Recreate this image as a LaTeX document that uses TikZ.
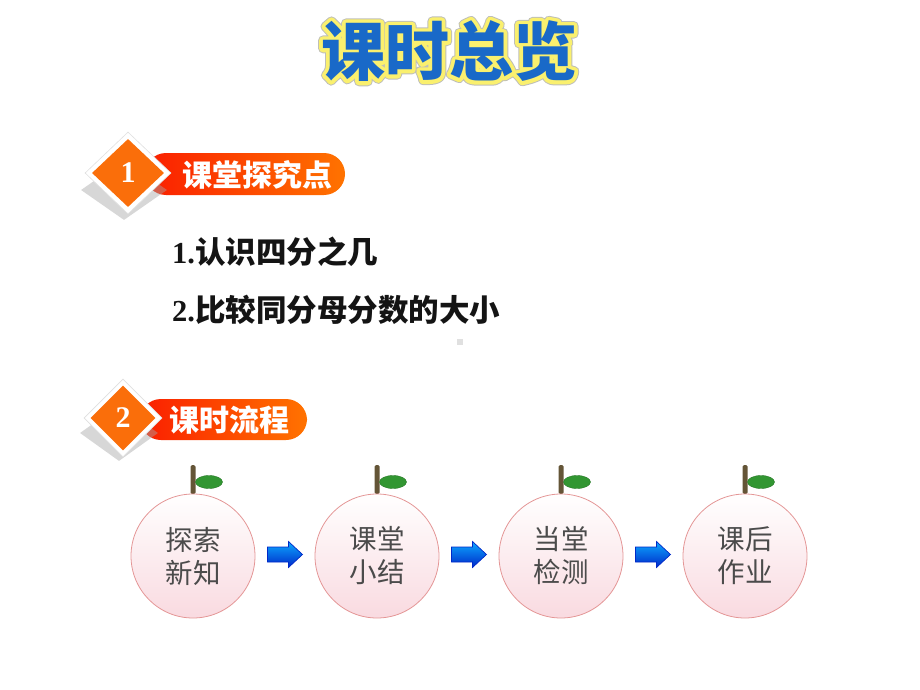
\documentclass[tikz,border=0pt]{standalone}
\usepackage{fontspec}
\setmainfont{Liberation Serif}
\newfontfamily\cjk{Noto Sans CJK SC}
\usetikzlibrary{shapes.geometric,calc}
\definecolor{titleblue}{RGB}{25,105,200}
\definecolor{titleyellow}{RGB}{250,240,110}
\definecolor{bannerred}{RGB}{250,30,0}
\definecolor{bannerorange}{RGB}{255,115,0}
\definecolor{diaorange}{RGB}{250,110,10}
\definecolor{itemtext}{RGB}{20,20,20}
\definecolor{circtext}{RGB}{75,75,75}
\definecolor{circedge}{RGB}{228,150,150}
\definecolor{circpink}{RGB}{249,218,224}
\definecolor{stembrown}{RGB}{100,85,55}
\definecolor{leafgreen}{RGB}{50,150,50}
\definecolor{arrowblue}{RGB}{20,110,255}
\definecolor{arrowdark}{RGB}{0,40,200}
\newcommand{\outlined}[1]{%
  \rlap{\special{pdf:literal 1 Tr 9.5 w 1 j 0.75 0.75 0.72 RG}#1\special{pdf:literal 0 Tr}}%
  \rlap{\special{pdf:literal 1 Tr 7.5 w 1 j 0.98 0.94 0.43 RG}#1\special{pdf:literal 0 Tr}}%
  #1}
\tikzset{
  banner/.style={left color=bannerred, right color=bannerorange, rounded corners=21pt},
  bannertext/.style={text=white, font=\cjk\bfseries\fontsize{30}{30}\selectfont, anchor=west, inner sep=0},
  outerdia/.style={diamond, fill=white, draw=black!12, line width=0.6pt, inner sep=0, minimum width=86pt, minimum height=82pt},
  innerdia/.style={diamond, fill=diaorange, inner sep=0, minimum width=72pt, minimum height=68pt,
    text=white, font=\bfseries\fontsize{30}{30}\selectfont},
  shadowdia/.style={diamond, fill=black!35, opacity=0.45, inner sep=0, minimum width=86pt, minimum height=60pt},
  itemtext/.style={text=itemtext, font=\cjk\bfseries\fontsize{30.5}{30.5}\selectfont, anchor=west, inner sep=0},
  fruit/.style={circle, minimum size=124pt, inner sep=0, draw=circedge, line width=0.8pt,
    top color=white, bottom color=circpink, text=circtext, align=center,
    font=\cjk\fontsize{27.5}{33}\selectfont},
  stem/.style={fill=stembrown, rounded corners=1.5pt},
  leaf/.style={ellipse, fill=leafgreen, draw=leafgreen!80!black, line width=0.4pt, minimum width=27pt, minimum height=13pt, inner sep=0},
  flowarrow/.style={top color=arrowblue!60!cyan, bottom color=arrowdark, draw=arrowdark, line width=0.7pt, line join=miter}
}
\begin{document}
\begin{tikzpicture}[x=1pt,y=-1pt]
\useasboundingbox (0,0) rectangle (920,690);
% title with outline
\node[text=titleblue, font=\cjk\bfseries\fontsize{64}{64}\selectfont, inner sep=0] (title) at (449,51) {\outlined{课时总览}};

% section 1
\shade[banner] (145,153) rectangle (345,195);
\node[shadowdia] (sh1) at (124,190) {};
\node[outerdia] (d1o) at (128,173) {};
\node[innerdia] (d1) at (128,173) {1};
\node[bannertext] (b1) at (182,175) {课堂探究点};

\node[itemtext] (i1) at (172,252) {{\rmfamily\bfseries 1.}认识四分之几};
\node[itemtext] (i2) at (172,310) {{\rmfamily\bfseries 2.}比较同分母分数的大小};
\node[fill=black!12, minimum size=6pt, inner sep=0] (dot) at (460,342) {};

% section 2
\shade[banner] (140,399) rectangle (307,440);
\node[shadowdia, minimum width=78pt, minimum height=56pt] (sh2) at (119,433) {};
\node[outerdia, minimum width=78pt, minimum height=78pt] (d2o) at (123,418) {};
\node[innerdia, minimum width=65pt, minimum height=65pt] (d2) at (123,418) {2};
\node[bannertext] (b2) at (169,420) {课时流程};

% flow
\foreach \n/\x/\t in {c1/193/{探索\\新知}, c2/377/{课堂\\小结}, c3/561/{当堂\\检测}, c4/745/{课后\\作业}}{
  \fill[stem] (\x-2.5,465) rectangle (\x+2.5,494);
  \node[leaf] (leaf\n) at (\x+16,482) {};
  \node[fruit] (\n) at (\x,556) {\t};
}
\foreach \a/\p/\q in {a1/c1/c2, a2/c2/c3, a3/c3/c4}{
  \coordinate (\a) at ($(\p.east)!0.5!(\q.west)+(0,-1.5)$);
  \shadedraw[flowarrow] ($(\a)+(-17.5,-7.5)$) -- ($(\a)+(3.5,-7.5)$) -- ($(\a)+(3.5,-13)$)
    -- ($(\a)+(17.5,0)$) -- ($(\a)+(3.5,13)$) -- ($(\a)+(3.5,7.5)$) -- ($(\a)+(-17.5,7.5)$) -- cycle;
}
\end{tikzpicture}
\end{document}
